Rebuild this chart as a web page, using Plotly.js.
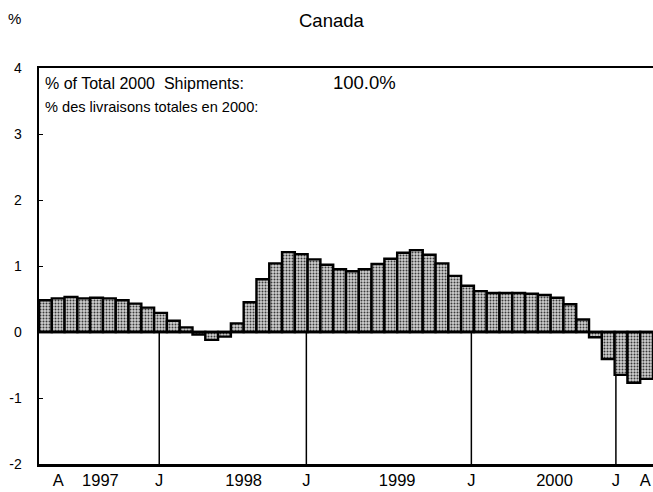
<!DOCTYPE html>
<html>
<head>
<meta charset="utf-8">
<script src="https://cdn.plot.ly/plotly-3.0.1.min.js"></script>
<style>html,body{margin:0;padding:0;background:#fff;}#chart{width:653px;height:492px;}</style>
</head>
<body>
<div id="chart"></div>
<script>
// Monthly values, Sep 1996 .. Aug 2000 (48 months)
const values = [0.48,0.51,0.53,0.51,0.52,0.51,0.48,0.43,0.37,0.29,0.17,0.07,
                -0.04,-0.12,-0.07,0.13,0.45,0.80,1.04,1.21,1.18,1.10,1.02,0.95,
                0.92,0.95,1.03,1.11,1.20,1.24,1.17,1.04,0.85,0.70,0.62,0.59,
                0.59,0.59,0.58,0.56,0.52,0.42,0.19,-0.08,-0.41,-0.65,-0.77,-0.71];
const monthIndex = values.map((v,i)=>i);
const tickLabels = ['A','1997','J','1998','J','1999','J','2000','J','A'];
const tickPositions = [1.0,4.3,8.9,15.5,20.4,27.5,33.3,39.8,44.6,46.9];
const yTicks = [-2,-1,0,1,2,3,4];
const yTickLabels = ['-2','-1','0','1','2','3','4'];

const font = 'Liberation Sans, Arial, sans-serif';

const shapes = [];
tickLabels.forEach((lab,i)=>{
  if(lab==='J'){
    shapes.push({type:'line',xref:'x',yref:'y',x0:tickPositions[i],x1:tickPositions[i],
      y0:0,y1:-2,line:{color:'#000',width:1.5},layer:'below'});
  }
});
shapes.push({type:'line',xref:'paper',yref:'y',x0:0,x1:1,y0:0,y1:0,line:{color:'#000',width:2.5},layer:'above'});

const trace = {
  type:'bar', x:monthIndex, y:values,
  marker:{color:'#b8b8b8', line:{color:'#000',width:2.4},
          pattern:{shape:'.',bgcolor:'#cfcfcf',fgcolor:'#3a3a3a',size:3,solidity:0.35,fillmode:'replace'}},
  width:1, hoverinfo:'skip'
};

const layout = {
  width:653, height:492,
  margin:{l:39,r:0,t:68,b:28},
  paper_bgcolor:'#fff', plot_bgcolor:'#fff',
  showlegend:false, bargap:0,
  font:{family:font,color:'#000'},
  xaxis:{range:[-0.5,47.5],showgrid:false,zeroline:false,showline:true,linecolor:'#000',linewidth:2.5,
    mirror:true,tickmode:'array',tickvals:tickPositions,ticktext:tickLabels,ticks:'',
    tickfont:{size:16.5,family:font},fixedrange:true},
  yaxis:{range:[-2,4],showgrid:false,zeroline:false,showline:true,linecolor:'#000',linewidth:2.5,
    tickmode:'array',tickvals:yTicks,ticktext:yTickLabels,ticks:'inside',ticklen:4,tickwidth:1,tickcolor:'#000',
    tickfont:{size:14,family:font},ticklabelstandoff:12,fixedrange:true},
  shapes:shapes,
  annotations:[
    {text:'Canada',xref:'paper',yref:'paper',x:0.477,y:1,yshift:48,xanchor:'center',yanchor:'middle',showarrow:false,font:{size:18.5,family:font}},
    {text:'%',xref:'paper',yref:'paper',x:-0.04,y:1,yshift:50,xanchor:'center',yanchor:'middle',showarrow:false,font:{size:15,family:font}},
    {text:'% of Total 2000&nbsp; Shipments:',xref:'paper',yref:'paper',x:0.0065,y:0.96,xanchor:'left',yanchor:'middle',showarrow:false,font:{size:16,family:font}},
    {text:'100.0%',xref:'paper',yref:'paper',x:0.476,y:0.963,xanchor:'left',yanchor:'middle',showarrow:false,font:{size:18.5,family:font}},
    {text:'% des livraisons totales en 2000:',xref:'paper',yref:'paper',x:0.0065,y:0.902,xanchor:'left',yanchor:'middle',showarrow:false,font:{size:14.6,family:font}}
  ]
};

Plotly.newPlot('chart',[trace],layout,{staticPlot:true,displayModeBar:false});
</script>
</body>
</html>
